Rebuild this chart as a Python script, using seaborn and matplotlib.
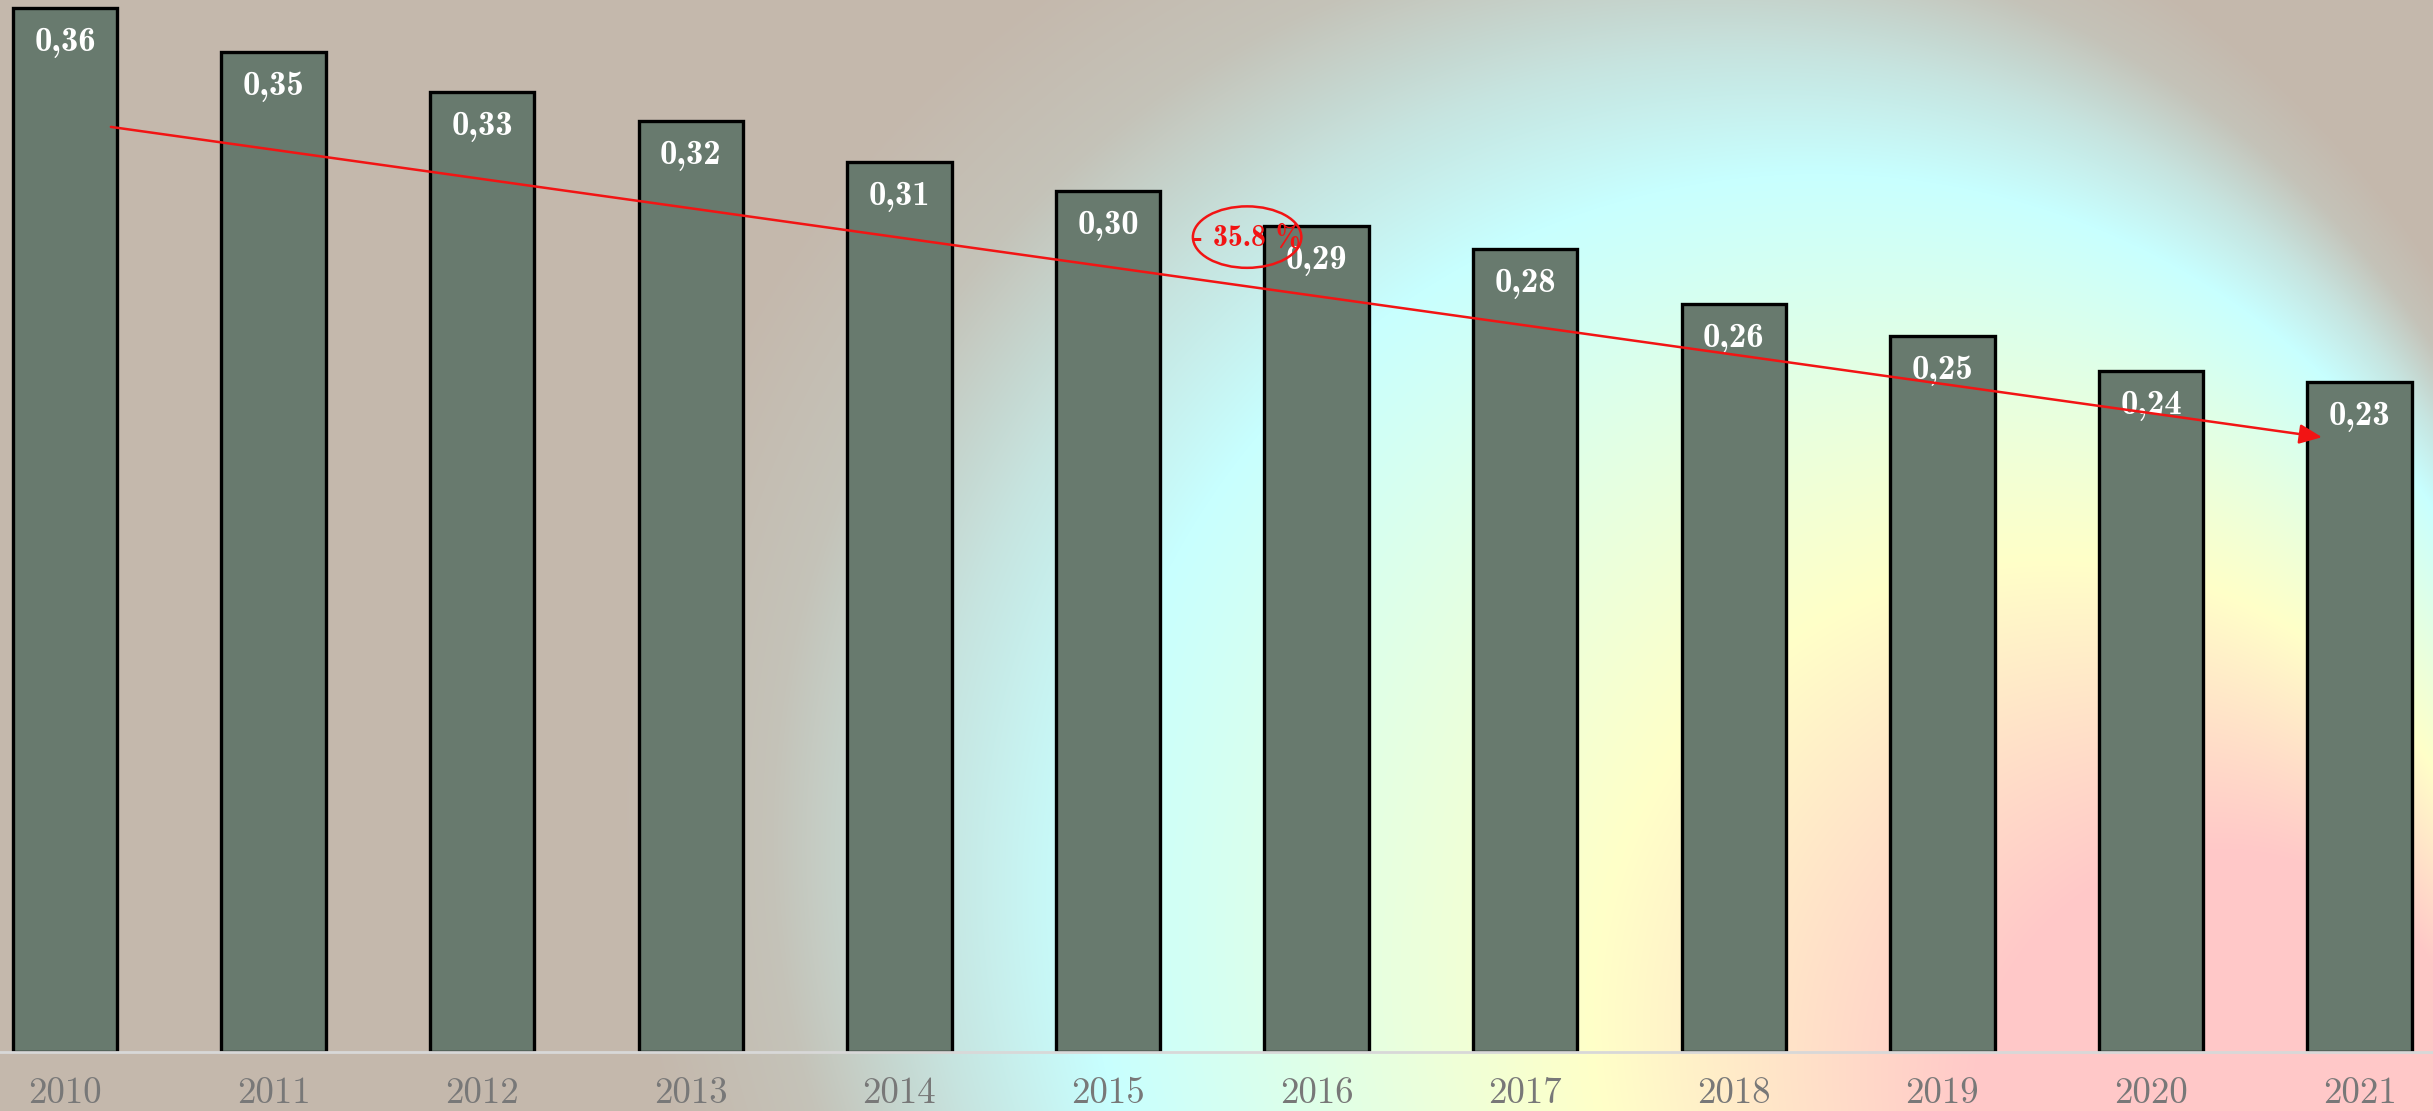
import numpy as np
import pandas as pd
import matplotlib
matplotlib.use("Agg")
import matplotlib.pyplot as plt
from matplotlib.patches import Ellipse
import seaborn as sns

# ---------------- data ----------------
years = ["2010", "2011", "2012", "2013", "2014", "2015",
         "2016", "2017", "2018", "2019", "2020", "2021"]
values = [0.360, 0.345, 0.331, 0.321, 0.307, 0.297,
          0.285, 0.277, 0.258, 0.247, 0.235, 0.231]
value_labels = ["0,36", "0,35", "0,33", "0,32", "0,31", "0,30",
                "0,29", "0,28", "0,26", "0,25", "0,24", "0,23"]
change_label = "- 35.8 %"

# ---------------- style ----------------
sns.set_theme(style="white")
plt.rcParams["axes.unicode_minus"] = False
plt.rcParams["font.family"] = ["cmr10", "DejaVu Serif"]

W, H = 2433, 1111
fig = plt.figure(figsize=(W / 100, H / 100), dpi=100)

# ---------------- background: focal radial gradient ----------------
TAUPE = np.array((196, 184, 172), dtype=float)
CYAN = np.array((200, 255, 255), dtype=float)
stops_t = [0.0, 0.26, 0.48, 0.77, 0.86, 0.95, 1.04]
stops_c = np.array([(255, 200, 200), (255, 200, 200), (255, 255, 200),
                    tuple(CYAN), tuple(CYAN * 0.62 + TAUPE * 0.38),
                    tuple(CYAN * 0.15 + TAUPE * 0.85), tuple(TAUPE)],
                   dtype=float) / 255.0
focal = np.array([2433.0, 1200.0])
centre = np.array([1635.0, 818.0])
radius = 951.0
yy, xx = np.mgrid[0:H, 0:W].astype(float)
qx, qy = xx - focal[0], yy - focal[1]
d = centre - focal
qa = d @ d - radius ** 2
qb = -2 * (qx * d[0] + qy * d[1])
qc = qx ** 2 + qy ** 2
tt = (-qb - np.sqrt(np.maximum(qb ** 2 - 4 * qa * qc, 0))) / (2 * qa)
tt = np.clip(tt, 0, 1.04)
img = np.stack([np.interp(tt, stops_t, stops_c[:, k]) for k in range(3)], axis=-1)

bax = fig.add_axes([0, 0, 1, 1], zorder=0)
bax.imshow(img, extent=(0, W, H, 0), interpolation="bilinear", aspect="auto")
bax.set_xlim(0, W); bax.set_ylim(H, 0)
bax.axis("off")

# ---------------- bars ----------------
ax = fig.add_axes([0, 59 / H, 1, 1052 / H], zorder=1)
ax.patch.set_alpha(0)
df = pd.DataFrame({"year": years, "value": values})
sns.barplot(data=df, x="year", y="value", color="#687a6e", saturation=1,
            edgecolor="black", linewidth=2.4, width=0.5, ax=ax)

ax.set_xlim(-0.3116, 11.352)
ax.set_ylim(0, 0.36276)
ax.set_xlabel(""); ax.set_ylabel("")
ax.set_yticks([])
for s in ["top", "left", "right"]:
    ax.spines[s].set_visible(False)
ax.spines["bottom"].set_color("#d8d8d8")
ax.spines["bottom"].set_linewidth(2)
ax.tick_params(axis="x", length=0, pad=18, labelsize=26.5, labelcolor="#787878")
for t in ax.get_xticklabels():
    t.set_fontfamily(["cmr10", "DejaVu Serif"])

# value labels
for i, (v, lab) in enumerate(zip(values, value_labels)):
    ax.annotate(lab, xy=(i, v), xytext=(0, -25), textcoords="offset points",
                ha="center", va="center", color="white", fontsize=25,
                fontfamily=["cmb10", "DejaVu Serif"], zorder=4)

# trend arrow
start = (0 + 0.22, values[0] - 0.041)
end = (len(values) - 1 - 0.18, values[-1] - 0.019)
ax.annotate("", xy=end, xytext=start,
            arrowprops=dict(arrowstyle="-|>,head_length=0.55,head_width=0.24",
                            color="#f21414", lw=1.8, mutation_scale=25,
                            shrinkA=0, shrinkB=0), zorder=5)

# change bubble
cx, cy = 5.667, 0.281
ax.add_patch(Ellipse((cx, cy), 0.52, 0.0212, fill=False, edgecolor="#f21414",
                     lw=1.8, zorder=6))
ax.text(cx, cy - 0.0004, change_label, ha="center", va="center", color="#f21414",
        fontsize=21.5, fontfamily=["cmb10", "DejaVu Serif"], zorder=6)

fig.savefig("out.png", dpi=100)
